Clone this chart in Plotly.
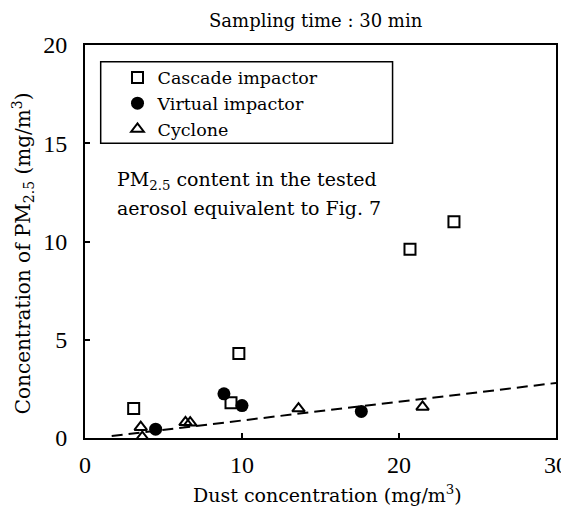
import plotly.graph_objects as go

# Data
cascade_x = [3.1, 9.3, 9.8, 20.7, 23.5]
cascade_y = [1.5, 1.8, 4.3, 9.6, 11.0]

virtual_x = [4.5, 8.85, 10.0, 17.6]
virtual_y = [0.45, 2.25, 1.65, 1.35]

cyclone_x = [3.55, 3.65, 6.4, 6.7, 13.6, 21.5]
cyclone_y = [0.55, 0.05, 0.8, 0.78, 1.5, 1.58]

fit_x = [1.7, 30]
fit_y = [0.1, 2.8]

x_ticks = [0, 10, 20, 30]
y_ticks = [0, 5, 10, 15, 20]

SERIF = "DejaVu Serif"
TICKFONT = "Liberation Serif"

fig = go.Figure()

fig.add_trace(go.Scatter(
    x=fit_x, y=fit_y, mode="lines", showlegend=False,
    line=dict(color="black", width=2, dash="11px,6px"),
))
fig.add_trace(go.Scatter(
    x=cascade_x, y=cascade_y, mode="markers", name="Cascade impactor",
    marker=dict(symbol="square-open", size=11, color="black", line=dict(width=2, color="black")),
))
fig.add_trace(go.Scatter(
    x=virtual_x, y=virtual_y, mode="markers", name="Virtual impactor",
    marker=dict(symbol="circle", size=13, color="black"),
))
fig.add_trace(go.Scatter(
    x=cyclone_x, y=cyclone_y, mode="markers", name="Cyclone",
    marker=dict(symbol="triangle-up-open", size=11, color="black", line=dict(width=2, color="black")),
))

axis_common = dict(
    showgrid=False, zeroline=False, showline=True, linecolor="black", linewidth=2,
    mirror=True, ticks="inside", ticklen=5, tickwidth=1.5, tickcolor="black",
    tickfont=dict(family=TICKFONT, size=24, color="black"), automargin=False,
)

fig.update_xaxes(range=[0, 30], tickvals=x_ticks, ticktext=[str(v) for v in x_ticks],
                 ticklabelstandoff=4, **axis_common)
fig.update_yaxes(range=[0, 20], tickvals=y_ticks, ticktext=[str(v) for v in y_ticks],
                 ticklabelstandoff=11, **axis_common)

# The page body has an 8px margin, so the figure is drawn 8px in from the top-left.
fig.update_layout(
    width=561, height=503,
    margin=dict(l=77, r=13, t=37, b=73, autoexpand=False),
    paper_bgcolor="white", plot_bgcolor="white",
    font=dict(family=SERIF, color="black"),
    legend=dict(
        x=0.069, y=0.963, xanchor="left", yanchor="top",
        bgcolor="rgba(0,0,0,0)", borderwidth=0,
        font=dict(family=SERIF, size=17.5, color="black"),
        itemwidth=30, tracegroupgap=0,
    ),
    shapes=[dict(type="rect", xref="paper", yref="paper",
                 x0=0.0333, x1=0.653, y0=0.75, y1=0.9575,
                 line=dict(color="black", width=1.5))],
    annotations=[
        dict(text="Sampling time : 30 min", xref="paper", yref="paper",
             x=0.49, y=1, yshift=25, xanchor="center", yanchor="middle", showarrow=False,
             font=dict(family=SERIF, size=18, color="black")),
        dict(text="PM<sub>2.5</sub> content in the tested",
             xref="paper", yref="paper", x=0.064, y=0.656, xanchor="left", yanchor="middle",
             align="left", showarrow=False,
             font=dict(family=SERIF, size=19, color="black")),
        dict(text="aerosol equivalent to Fig. 7",
             xref="paper", yref="paper", x=0.064, y=0.585, xanchor="left", yanchor="middle",
             align="left", showarrow=False,
             font=dict(family=SERIF, size=19, color="black")),
        dict(text="Dust concentration (mg/m<sup>3</sup>)", xref="paper", yref="paper",
             x=0.514, y=0, yshift=-56, xanchor="center", yanchor="middle", showarrow=False,
             font=dict(family=SERIF, size=19, color="black")),
        dict(text="Concentration of PM<sub>2.5</sub> (mg/m<sup>3</sup>)", xref="paper", yref="paper",
             x=0, xshift=-62, y=0.47, xanchor="center", yanchor="middle",
             textangle=-90, showarrow=False,
             font=dict(family=SERIF, size=20, color="black")),
    ],
)

fig.write_html("out.html")
